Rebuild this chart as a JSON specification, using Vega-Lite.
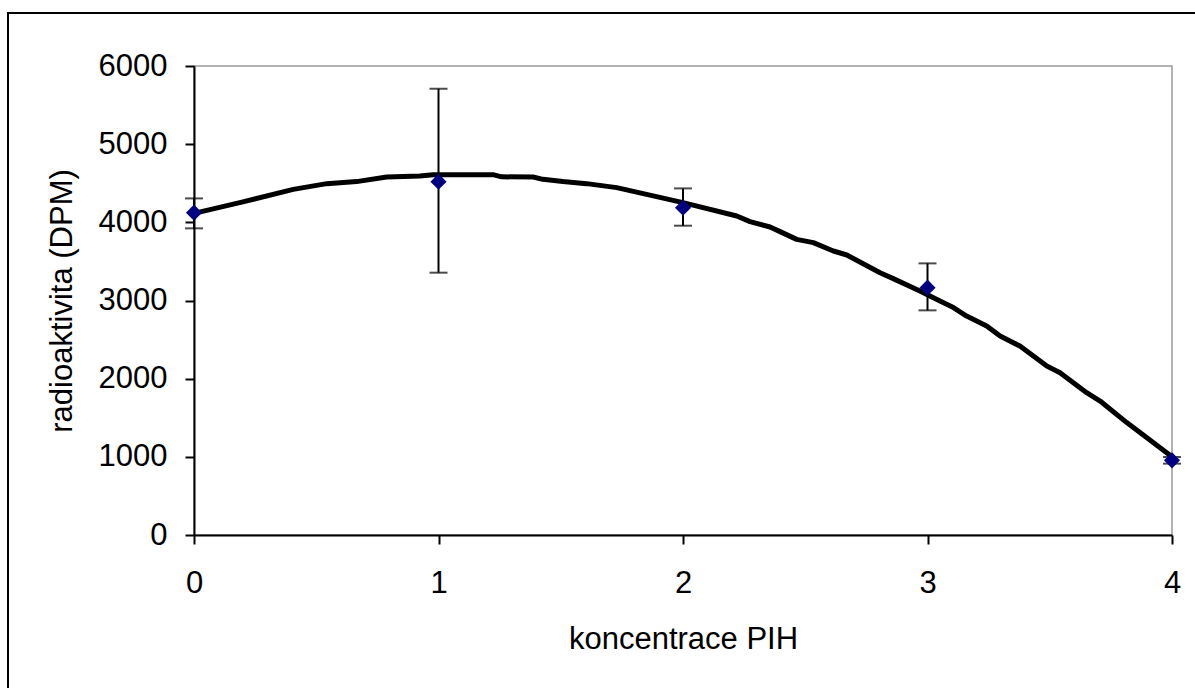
{
  "$schema": "https://vega.github.io/schema/vega-lite/v6.json",
  "width": 978,
  "height": 469,
  "autosize": {"type": "none"},
  "padding": {"left": 194, "top": 66, "right": 23, "bottom": 153},
  "background": "white",
  "config": {
    "view": {"stroke": "#999999", "strokeWidth": 1.5},
    "axis": {
      "grid": false,
      "domainColor": "black",
      "domainWidth": 2,
      "tickColor": "black",
      "tickWidth": 2,
      "tickSize": 9,
      "labelFont": "Liberation Sans",
      "labelFontSize": 31,
      "labelColor": "black",
      "labelFlush": false,
      "titleFont": "Liberation Sans",
      "titleFontSize": 31,
      "titleFontWeight": "normal",
      "titleColor": "black"
    }
  },
  "datasets": {
    "points": [
      {"c": 0, "v": 4124, "lo": 3923, "hi": 4306},
      {"c": 1, "v": 4520, "lo": 3356, "hi": 5709},
      {"c": 2, "v": 4187, "lo": 3957, "hi": 4434},
      {"c": 3, "v": 3164, "lo": 2874, "hi": 3475},
      {"c": 4, "v": 955, "lo": 913, "hi": 998}
    ],
    "trend": [
      {"c": 0, "v": 4115},
      {"c": 0.2, "v": 4262},
      {"c": 0.406, "v": 4422},
      {"c": 0.543, "v": 4495},
      {"c": 0.665, "v": 4521},
      {"c": 0.788, "v": 4580},
      {"c": 0.924, "v": 4592},
      {"c": 0.978, "v": 4610},
      {"c": 1.223, "v": 4610},
      {"c": 1.258, "v": 4582},
      {"c": 1.387, "v": 4580},
      {"c": 1.427, "v": 4550},
      {"c": 1.509, "v": 4521},
      {"c": 1.606, "v": 4495},
      {"c": 1.729, "v": 4444},
      {"c": 2.0, "v": 4252},
      {"c": 2.22, "v": 4081},
      {"c": 2.274, "v": 4009},
      {"c": 2.356, "v": 3940},
      {"c": 2.397, "v": 3881},
      {"c": 2.465, "v": 3782},
      {"c": 2.533, "v": 3740},
      {"c": 2.615, "v": 3633},
      {"c": 2.67, "v": 3582},
      {"c": 2.806, "v": 3356},
      {"c": 2.86, "v": 3280},
      {"c": 2.969, "v": 3121},
      {"c": 3.051, "v": 2993},
      {"c": 3.106, "v": 2909},
      {"c": 3.16, "v": 2801},
      {"c": 3.242, "v": 2673},
      {"c": 3.297, "v": 2545},
      {"c": 3.378, "v": 2417},
      {"c": 3.488, "v": 2162},
      {"c": 3.542, "v": 2077},
      {"c": 3.651, "v": 1821},
      {"c": 3.706, "v": 1714},
      {"c": 3.815, "v": 1438},
      {"c": 4.0, "v": 1000}
    ],
    "frame": [{"f": 1}]
  },
  "encoding": {
    "x": {
      "type": "quantitative",
      "scale": {"domain": [0, 4], "nice": false, "zero": false},
      "axis": {"values": [0, 1, 2, 3, 4], "format": "d", "title": "koncentrace PIH", "labelPadding": 24, "titlePadding": 26}
    },
    "y": {
      "type": "quantitative",
      "scale": {"domain": [0, 6000], "nice": false},
      "axis": {"values": [0, 1000, 2000, 3000, 4000, 5000, 6000], "format": "d", "title": "radioaktivita (DPM)", "labelPadding": 18, "titlePadding": 20}
    }
  },
  "layer": [
    {
      "data": {"name": "frame"},
      "mark": {"type": "rect", "fill": null, "stroke": "black", "strokeWidth": 2, "clip": false,
        "x": -186, "y": -53, "x2": 1100, "y2": 700},
      "encoding": {"x": null, "y": null}
    },
    {
      "data": {"name": "trend"},
      "mark": {"type": "line", "color": "black", "strokeWidth": 5, "strokeJoin": "round"},
      "encoding": {"x": {"field": "c"}, "y": {"field": "v"}}
    },
    {
      "data": {"name": "points"},
      "mark": {"type": "rule", "color": "black", "strokeWidth": 2},
      "encoding": {"x": {"field": "c"}, "y": {"field": "lo"}, "y2": {"field": "hi"}}
    },
    {
      "data": {"name": "points"},
      "mark": {"type": "tick", "color": "black", "orient": "horizontal", "size": 18, "thickness": 2},
      "encoding": {"x": {"field": "c"}, "y": {"field": "lo"}}
    },
    {
      "data": {"name": "points"},
      "mark": {"type": "tick", "color": "black", "orient": "horizontal", "size": 18, "thickness": 2},
      "encoding": {"x": {"field": "c"}, "y": {"field": "hi"}}
    },
    {
      "data": {"name": "points"},
      "mark": {"type": "point", "shape": "diamond", "filled": true, "color": "#000080", "size": 260, "opacity": 1},
      "encoding": {"x": {"field": "c"}, "y": {"field": "v"}}
    }
  ]
}
